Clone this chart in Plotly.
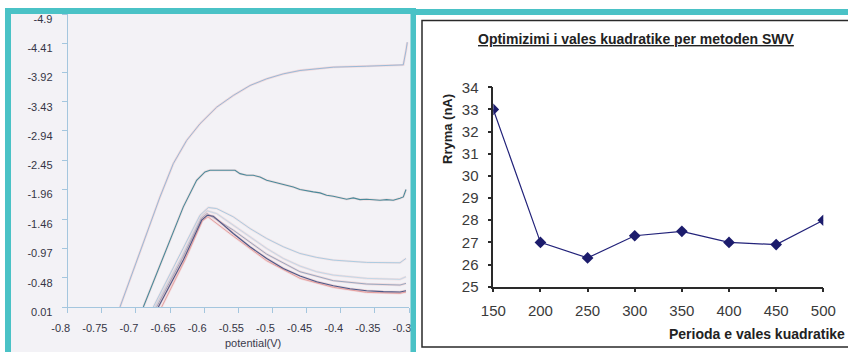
import plotly.graph_objects as go

W, H = 848, 352

# ---------------- Right chart data ----------------
periods = [150, 200, 250, 300, 350, 400, 450, 500]
current_nA = [33.0, 27.0, 26.3, 27.3, 27.5, 27.0, 26.9, 28.0]
right_yticks = [25, 26, 27, 28, 29, 30, 31, 32, 33, 34]
right_title = "Optimizimi i vales kuadratike per metoden SWV"
right_ytitle = "Rryma (nA)"
right_xtitle = "Perioda e vales kuadratike"

# ---------------- Left voltammogram data ----------------
left_xticks = [-0.8, -0.75, -0.7, -0.65, -0.6, -0.55, -0.5, -0.45, -0.4, -0.35, -0.3]
left_xticklabels = ["-0.8", "-0.75", "-0.7", "-0.65", "-0.6", "-0.55", "-0.5", "-0.45", "-0.4", "-0.35", "-0.3"]
left_yticks = [0.01, -0.48, -0.97, -1.46, -1.96, -2.45, -2.94, -3.43, -3.92, -4.41, -4.9]
left_yticklabels = ["0.01", "-0.48", "-0.97", "-1.46", "-1.96", "-2.45", "-2.94", "-3.43", "-3.92", "-4.41", "-4.9"]
left_xtitle = "potential(V)"

c1_x = [-0.7234, -0.7039, -0.6843, -0.6648, -0.6453, -0.6257, -0.6062, -0.5817, -0.5574, -0.5329,
        -0.5085, -0.4841, -0.4597, -0.4109, -0.3620, -0.3132, -0.3083, -0.3044, -0.3025]
c1_y = [0.01, -0.609, -1.222, -1.834, -2.393, -2.782, -3.061, -3.339, -3.535, -3.702,
        -3.814, -3.897, -3.953, -4.009, -4.025, -4.036, -4.048, -4.287, -4.426]

c2_x = [-0.6892, -0.6697, -0.6502, -0.6306, -0.6111, -0.5989, -0.5916, -0.5769, -0.5623, -0.5549, -0.5476,
        -0.5378, -0.5281, -0.5183, -0.5085, -0.4988, -0.4890, -0.4792, -0.4695, -0.4597, -0.4500, -0.4402,
        -0.4304, -0.4207, -0.4109, -0.4011, -0.3914, -0.3816, -0.3718, -0.3621, -0.3523, -0.3425, -0.3328,
        -0.3230, -0.3132, -0.3083, -0.3044]
c2_y = [0.01, -0.553, -1.110, -1.668, -2.114, -2.253, -2.281, -2.281, -2.292, -2.281, -2.225,
        -2.197, -2.197, -2.169, -2.114, -2.086, -2.069, -2.030, -2.002, -1.958, -1.935, -1.919,
        -1.902, -1.863, -1.846, -1.824, -1.796, -1.818, -1.790, -1.796, -1.790, -1.779, -1.790,
        -1.779, -1.813, -1.835, -1.958]

c3_x = [-0.6746, -0.6355, -0.6062, -0.5940, -0.5818, -0.5574, -0.5330, -0.5085, -0.4841, -0.4597,
        -0.4353, -0.4109, -0.3621, -0.3132, -0.3044]
c3_y = [0.01, -0.860, -1.528, -1.657, -1.640, -1.501, -1.306, -1.138, -0.999, -0.887,
        -0.821, -0.776, -0.737, -0.731, -0.804]

c4_x = [-0.6721, -0.6331, -0.6047, -0.5955, -0.5818, -0.5574, -0.5330, -0.5085, -0.4841, -0.4597,
        -0.4353, -0.4109, -0.3621, -0.3132, -0.3044]
c4_y = [0.01, -0.832, -1.501, -1.601, -1.556, -1.361, -1.166, -0.971, -0.804, -0.676,
        -0.581, -0.525, -0.470, -0.453, -0.497]

c5_x = [-0.6672, -0.6306, -0.6037, -0.5955, -0.5867, -0.5574, -0.5330, -0.5085, -0.4841, -0.4597,
        -0.4353, -0.4109, -0.3865, -0.3621, -0.3376, -0.3132, -0.3044]
c5_y = [0.01, -0.776, -1.445, -1.528, -1.512, -1.222, -0.999, -0.804, -0.637, -0.509,
        -0.414, -0.347, -0.297, -0.263, -0.247, -0.241, -0.263]

c6_x = [-0.6624, -0.6282, -0.6027, -0.5945, -0.5574, -0.5085, -0.4597, -0.4109, -0.3621, -0.3132, -0.3044]
c6_y = [0.01, -0.776, -1.434, -1.501, -1.177, -0.765, -0.470, -0.319, -0.235, -0.219, -0.241]

c7_x = [-0.6697, -0.6321, -0.6042, -0.5959, -0.5574, -0.5085, -0.4597, -0.4109, -0.3621, -0.3132, -0.3044]
c7_y = [0.01, -0.804, -1.473, -1.556, -1.278, -0.876, -0.581, -0.431, -0.375, -0.358, -0.386]


def px(x):
    return x / W


def py(y):
    return 1 - y / H


FONT = "Liberation Sans, Arial, sans-serif"
TEAL = "#4ac2c6"

fig = go.Figure()

# left curves: (x, y, color, width, halo color)
curves = [
    (c1_x, c1_y, "#8fb6d6", 0.9, "rgba(240,170,170,0.35)"),
    (c4_x, c4_y, "#bcd6e8", 0.9, "rgba(240,180,180,0.30)"),
    (c3_x, c3_y, "#a4c8e0", 0.9, "rgba(240,185,185,0.25)"),
    (c7_x, c7_y, "#98a8c0", 1.0, "rgba(235,160,160,0.30)"),
    (c6_x, c6_y, "#e4a0a0", 1.0, "rgba(240,180,180,0.30)"),
    (c5_x, c5_y, "#4a5888", 1.1, "rgba(225,140,140,0.30)"),
    (c2_x, c2_y, "#4a8a9a", 1.1, "rgba(225,160,160,0.25)"),
]
for cx, cy, col, w, halo in curves:
    fig.add_trace(go.Scatter(x=cx, y=cy, mode="lines", xaxis="x", yaxis="y",
                             line=dict(color=halo, width=w + 1.4), hoverinfo="skip", showlegend=False))
    fig.add_trace(go.Scatter(x=cx, y=cy, mode="lines", xaxis="x", yaxis="y",
                             line=dict(color=col, width=w), showlegend=False))

# right chart
fig.add_trace(go.Scatter(x=periods, y=current_nA, mode="lines+markers", xaxis="x2", yaxis="y2",
                         line=dict(color="#23237a", width=1.2),
                         marker=dict(symbol="diamond", size=9, color="#1c1c6c"),
                         showlegend=False))

shapes = [
    dict(type="rect", xref="paper", yref="paper", x0=px(11), x1=px(411), y0=py(352), y1=py(14),
         fillcolor="#f3f2f6", line=dict(width=0), layer="below"),
    dict(type="rect", xref="paper", yref="paper", x0=px(5), x1=px(11), y0=py(352), y1=py(8),
         fillcolor=TEAL, line=dict(width=0), layer="above"),
    dict(type="rect", xref="paper", yref="paper", x0=px(5), x1=px(411), y0=py(14), y1=py(8),
         fillcolor=TEAL, line=dict(width=0), layer="above"),
    dict(type="rect", xref="paper", yref="paper", x0=px(410.5), x1=px(416), y0=py(352), y1=py(8),
         fillcolor=TEAL, line=dict(width=0), layer="above"),
    dict(type="rect", xref="paper", yref="paper", x0=px(411), x1=px(848), y0=py(15), y1=py(9),
         fillcolor=TEAL, line=dict(width=0), layer="above"),
    dict(type="rect", xref="paper", yref="paper", x0=px(422), x1=px(852), y0=py(347), y1=py(20.5),
         fillcolor="rgba(0,0,0,0)", line=dict(color="#2a2a2a", width=1.5), layer="above"),
]

annotations = [
    dict(text="<u>" + right_title + "</u>", xref="paper", yref="paper", x=px(636), y=py(39),
         xanchor="center", yanchor="middle", showarrow=False,
         font=dict(family=FONT, size=14, color="#222222", weight="bold")),
    dict(text=right_ytitle, xref="paper", yref="paper", x=px(447), y=py(129), textangle=-90,
         xanchor="center", yanchor="middle", showarrow=False,
         font=dict(family=FONT, size=13, color="#222222", weight="bold")),
    dict(text=right_xtitle, xref="paper", yref="paper", x=px(847), y=py(334),
         xanchor="right", yanchor="middle", showarrow=False,
         font=dict(family=FONT, size=14, color="#222222", weight="bold")),
    dict(text=left_xtitle, xref="paper", yref="paper", x=px(253), y=py(343),
         xanchor="center", yanchor="middle", showarrow=False,
         font=dict(family=FONT, size=11, color="#3a3a4c")),
]

fig.update_layout(
    width=W, height=H,
    margin=dict(l=0, r=0, t=0, b=0, pad=0),
    paper_bgcolor="white", plot_bgcolor="rgba(0,0,0,0)",
    showlegend=False,
    shapes=shapes, annotations=annotations,
    xaxis=dict(domain=[px(67.7), px(409)], range=[-0.8, -0.3], tickvals=left_xticks,
               ticktext=left_xticklabels, showgrid=False, zeroline=False, automargin=False,
               showline=True, linecolor="#a4c6de", linewidth=1,
               ticks="outside", ticklen=5, tickcolor="#a4c6de", ticklabelstandoff=6,
               ticklabelshift=-7,
               tickfont=dict(family=FONT, size=11, color="#353545"), anchor="y"),
    yaxis=dict(domain=[py(307), py(14)], range=[0.01, -4.9], tickvals=left_yticks,
               ticktext=left_yticklabels, showgrid=False, zeroline=False, automargin=False,
               showline=True, linecolor="#a4c6de", linewidth=1,
               ticks="outside", ticklen=5, tickcolor="#a4c6de", ticklabelstandoff=7,
               ticklabelshift=-5,
               tickfont=dict(family=FONT, size=11, color="#353545"), anchor="x"),
    xaxis2=dict(domain=[px(493.3), px(823.3)], range=[150, 500], tickvals=periods,
                showgrid=False, zeroline=False, showline=True, linecolor="#2a2a2a", linewidth=1.5,
                automargin=False,
                ticks="outside", ticklen=4, tickcolor="#2a2a2a", tickwidth=1.5, ticklabelstandoff=6,
                tickfont=dict(family=FONT, size=15, color="#3a3a3a"), anchor="y2"),
    yaxis2=dict(domain=[py(286.7), py(87.3)], range=[25, 34], tickvals=right_yticks,
                showgrid=False, zeroline=False, showline=True, linecolor="#2a2a2a", linewidth=1.5,
                automargin=False,
                ticks="outside", ticklen=4, tickcolor="#2a2a2a", tickwidth=1.5, ticklabelstandoff=6,
                tickfont=dict(family=FONT, size=15, color="#3a3a3a"), anchor="x2"),
)

fig.write_html("out.html")
